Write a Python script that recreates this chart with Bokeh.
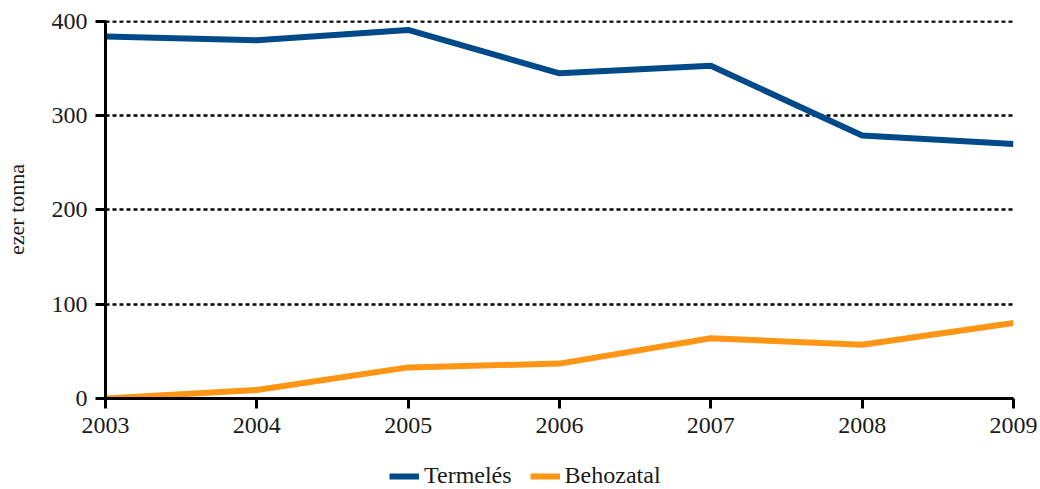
from bokeh.plotting import figure
from bokeh.layouts import column
from bokeh.models import Legend, LegendItem, FixedTicker, ColumnDataSource
from bokeh.embed import file_html
from bokeh.resources import INLINE

years = [2003, 2004, 2005, 2006, 2007, 2008, 2009]
termeles = [384, 380, 391, 345, 353, 279, 270]
behozatal = [0, 9, 33, 37, 64, 57, 80]
y_ticks = [0, 100, 200, 300, 400]
series_names = ["Termelés", "Behozatal"]

FONT = "Liberation Serif"
BLUE = "#004A8A"
ORANGE = "#FF9514"
TXT = "#1a1a1a"

p = figure(width=1040, height=440, output_backend="svg", toolbar_location=None,
           x_range=(2003, 2009), y_range=(0, 401),
           min_border_left=105, min_border_right=27, min_border_top=20, min_border_bottom=42)
p.outline_line_color = None

src = ColumnDataSource(dict(x=years, t=termeles, b=behozatal))
p.line("x", "t", source=src, line_color=BLUE, line_width=6)
p.line("x", "b", source=src, line_color=ORANGE, line_width=6)

p.xgrid.grid_line_color = None
p.ygrid.grid_line_color = "black"
p.ygrid.grid_line_width = 2.5
p.ygrid.grid_line_dash = "4 3"
p.ygrid.ticker = FixedTicker(ticks=[100, 200, 300, 400])

p.xaxis.ticker = FixedTicker(ticks=years)
p.yaxis.ticker = FixedTicker(ticks=y_ticks)
for ax in (p.xaxis[0], p.yaxis[0]):
    ax.axis_line_color = "black"
    ax.axis_line_width = 3
    ax.major_tick_line_color = "black"
    ax.major_tick_line_width = 3
    ax.major_tick_out = 10
    ax.major_tick_in = 0
    ax.minor_tick_line_color = None
    ax.major_label_text_font = FONT
    ax.major_label_text_font_size = "24px"
    ax.major_label_text_color = TXT
p.xaxis.major_label_standoff = 9
p.yaxis.major_label_standoff = 8
p.yaxis.axis_label = "ezer tonna"
p.yaxis.axis_label_text_font = FONT
p.yaxis.axis_label_text_font_size = "22px"
p.yaxis.axis_label_text_font_style = "normal"
p.yaxis.axis_label_text_color = TXT
p.yaxis.axis_label_standoff = 20

# legend strip below the chart
lg = figure(width=1040, height=49, output_backend="svg", toolbar_location=None,
            x_range=(0, 1), y_range=(0, 1), x_axis_location=None, y_axis_location=None,
            min_border_left=0, min_border_right=0, min_border_top=0, min_border_bottom=0)
lg.outline_line_color = None
lg.xgrid.grid_line_color = None
lg.ygrid.grid_line_color = None
e1 = lg.line(x=[-5, -4], y=[-5, -5], line_color=BLUE, line_width=6)
e2 = lg.line(x=[-5, -4], y=[-5, -5], line_color=ORANGE, line_width=6)
legend = Legend(items=[LegendItem(label=series_names[0], renderers=[e1]),
                       LegendItem(label=series_names[1], renderers=[e2])],
                orientation="horizontal", location=(284, 0),
                label_text_font=FONT, label_text_font_size="24px",
                label_text_color=TXT, label_height=22,
                glyph_width=30, glyph_height=22, label_standoff=5, spacing=18,
                border_line_color=None, background_fill_alpha=0,
                margin=0, padding=0)
lg.add_layout(legend, "center")

open("out.html", "w").write(file_html(column(p, lg, spacing=0), INLINE))
